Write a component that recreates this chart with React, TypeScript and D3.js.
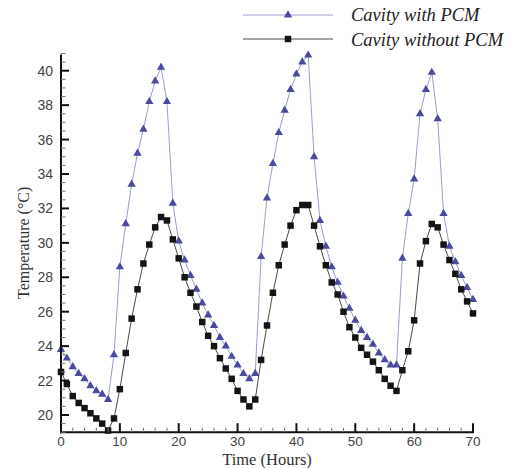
import React from "react";
import * as d3 from "d3";

const hours = [
  0, 1, 2, 3, 4, 5, 6, 7, 8, 9, 10, 11, 12, 13, 14, 15, 16, 17, 18, 19, 20, 21, 22, 23, 24, 25, 26, 27, 28, 29,
  30, 31, 32, 33, 34, 35, 36, 37, 38, 39, 40, 41, 42, 43, 44, 45, 46, 47, 48, 49, 50, 51, 52, 53, 54, 55, 56, 57, 58, 59,
  60, 61, 62, 63, 64, 65, 66, 67, 68, 69, 70,
];

const withPCM = [
  23.8, 23.3, 22.8, 22.4, 22.1, 21.7, 21.4, 21.2, 20.9, 23.5, 28.6, 31.1, 33.4, 35.2, 36.6, 38.2, 39.4, 40.2, 38.2, 32.3,
  30.1, 29.0, 28.1, 27.3, 26.5, 25.8, 25.2, 24.5, 24.0, 23.4, 22.9, 22.4, 22.1, 22.4, 29.2, 32.6, 34.6, 36.4, 37.7, 38.9,
  39.8, 40.5, 40.9, 35.0, 31.3, 29.8, 28.6, 27.7, 26.9, 26.2, 25.5, 24.9, 24.5, 24.1, 23.6, 23.2, 22.9, 22.9, 29.1, 31.7,
  33.7, 37.5, 38.9, 39.9, 37.2, 31.7, 29.8, 28.9, 28.1, 27.4, 26.7,
];

const withoutPCM = [
  22.5, 21.8, 21.1, 20.7, 20.4, 20.1, 19.8, 19.5, 19.1, 19.8, 21.5, 23.6, 25.6, 27.3, 28.8, 29.9, 30.9, 31.5, 31.3, 30.2,
  29.1, 28.0, 27.1, 26.3, 25.4, 24.6, 24.0, 23.3, 22.7, 22.1, 21.4, 20.9, 20.5, 20.9, 23.2, 25.2, 27.1, 28.7, 29.9, 31.0,
  31.9, 32.2, 32.2, 31.0, 29.8, 28.7, 27.7, 27.0, 26.0, 25.1, 24.5, 23.9, 23.5, 23.1, 22.6, 22.1, 21.7, 21.4, 22.6, 23.7,
  25.5, 28.8, 30.1, 31.1, 30.9, 29.9, 29.0, 28.2, 27.3, 26.6, 25.9,
];

const xTicks = [0, 10, 20, 30, 40, 50, 60, 70];
const yTicks = [20, 22, 24, 26, 28, 30, 32, 34, 36, 38, 40];
const seriesNames = ["Cavity with PCM", "Cavity without PCM"];

const W = 511;
const H = 468;

export default function App() {
  const x = d3.scaleLinear().domain([0, 70]).range([61, 473]);
  const y = d3.scaleLinear().domain([19, 41]).range([432.2, 53.5]);

  const line = d3
    .line<number>()
    .x((_, i) => x(hours[i]))
    .y((d) => y(d));

  const tri = d3.symbol().type(d3.symbolTriangle).size(30)() as string;
  const sq = d3.symbol().type(d3.symbolSquare).size(42)() as string;

  const xMinor = d3.range(0, 70.001, 2).filter((v) => v % 10 !== 0);
  const yMinor = d3.range(19, 41.001, 0.5).filter((v) => v % 2 !== 0);

  const triColor = "#4a4a9e";
  const triLine = "#9c9cd0";
  const sqColor = "#141414";
  const sqLine = "#4a4a4a";

  const x0 = x(0);
  const yb = y(19);

  return (
    <svg
      width={W}
      height={H}
      style={{ position: "absolute", left: 0, top: 0, background: "#fff" }}
    >
      {/* series lines */}
      <path d={line(withPCM) || ""} fill="none" stroke={triLine} strokeWidth={1} />
      <path d={line(withoutPCM) || ""} fill="none" stroke={sqLine} strokeWidth={1} />
      {withPCM.map((v, i) => (
        <path key={"t" + i} d={tri} transform={`translate(${x(hours[i])},${y(v)})`} fill={triColor} />
      ))}
      {withoutPCM.map((v, i) => (
        <path key={"s" + i} d={sq} transform={`translate(${x(hours[i])},${y(v)})`} fill={sqColor} />
      ))}

      {/* axes */}
      <line x1={x0} x2={x0} y1={yb + 1} y2={y(41) + 1} stroke="#111" strokeWidth={2} />
      <line x1={x0 - 1} x2={x(70) + 1} y1={yb} y2={yb} stroke="#111" strokeWidth={2} />
      {xTicks.map((t) => (
        <g key={"xt" + t}>
          <line x1={x(t)} x2={x(t)} y1={yb} y2={yb - 9} stroke="#111" strokeWidth={2} />
          <text
            x={x(t)}
            y={446}
            textAnchor="middle"
            fontFamily="Liberation Sans, Arial, sans-serif"
            fontSize={13.5}
            fill="#444"
          >
            {t}
          </text>
        </g>
      ))}
      {xMinor.map((t) => (
        <line key={"xm" + t} x1={x(t)} x2={x(t)} y1={yb} y2={yb - 4.5} stroke="#777" strokeWidth={1} />
      ))}
      {yTicks.map((t) => (
        <g key={"yt" + t}>
          <line x1={x0} x2={x0 + 8} y1={y(t)} y2={y(t)} stroke="#111" strokeWidth={2} />
          <text
            x={53}
            y={y(t) + 5}
            textAnchor="end"
            fontFamily="Liberation Sans, Arial, sans-serif"
            fontSize={14}
            fill="#444"
          >
            {t}
          </text>
        </g>
      ))}
      {yMinor.map((t) => (
        <line key={"ym" + t} x1={x0} x2={x0 + 4.5} y1={y(t)} y2={y(t)} stroke="#777" strokeWidth={1} />
      ))}

      {/* axis titles */}
      <text
        x={(x(0) + x(70)) / 2}
        y={465}
        textAnchor="middle"
        fontFamily="Liberation Serif, Times New Roman, serif"
        fontSize={16.5}
        fill="#333"
      >
        Time (Hours)
      </text>
      <text
        transform={`translate(29,${y(30)}) rotate(-90)`}
        textAnchor="middle"
        fontFamily="Liberation Serif, Times New Roman, serif"
        fontSize={16}
        fill="#333"
      >
        Temperature (°C)
      </text>

      {/* legend */}
      <line x1={243} x2={333} y1={15} y2={15} stroke={triLine} strokeWidth={1} />
      <path d={tri} transform="translate(288,15)" fill={triColor} />
      <line x1={243} x2={333} y1={39} y2={39} stroke={sqLine} strokeWidth={1} />
      <path d={sq} transform="translate(288,39)" fill={sqColor} />
      <text
        x={351}
        y={21}
        fontFamily="Liberation Serif, Times New Roman, serif"
        fontStyle="italic"
        fontSize={18.5}
        fill="#222"
      >
        {seriesNames[0]}
      </text>
      <text
        x={351}
        y={45.5}
        fontFamily="Liberation Serif, Times New Roman, serif"
        fontStyle="italic"
        fontSize={18.5}
        fill="#222"
      >
        {seriesNames[1]}
      </text>
    </svg>
  );
}
